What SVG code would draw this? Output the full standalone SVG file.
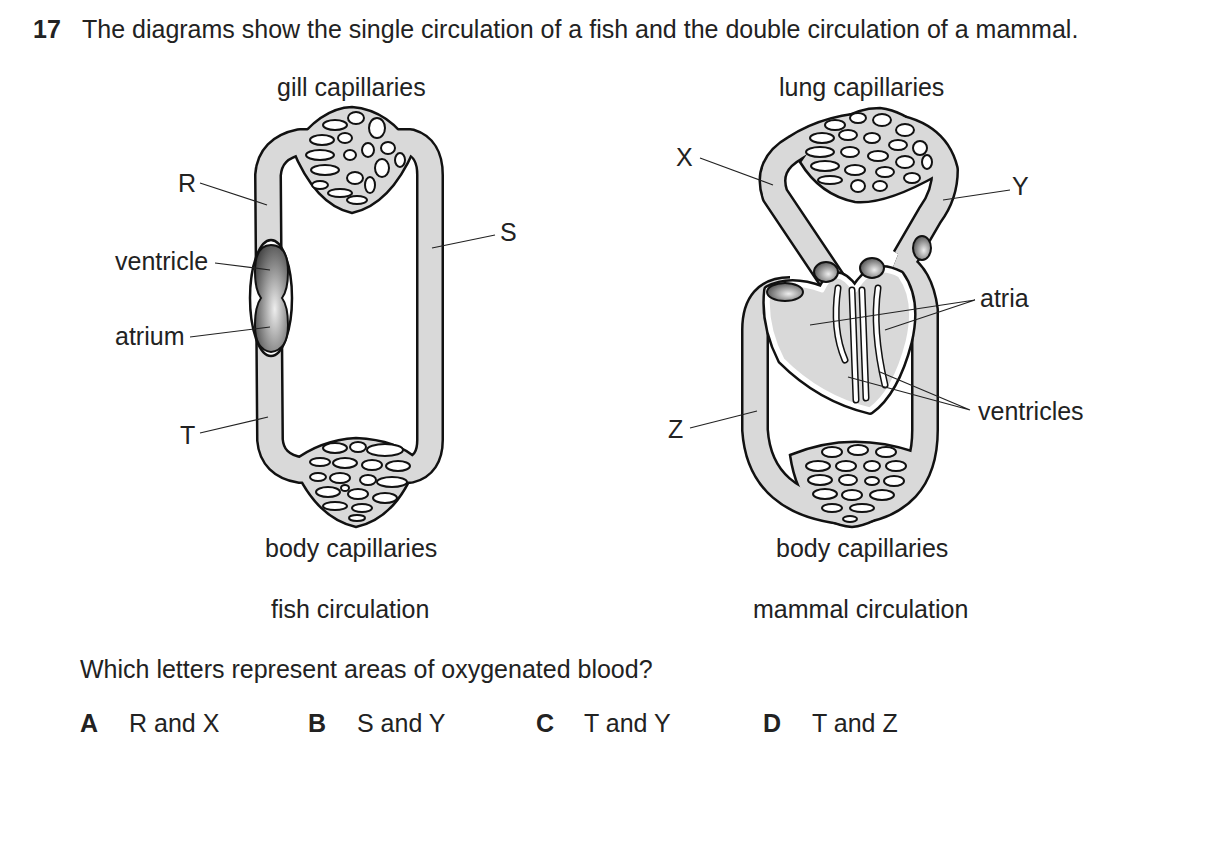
<svg xmlns="http://www.w3.org/2000/svg" width="1209" height="867" viewBox="0 0 1209 867">
<defs>
<radialGradient id="dk" cx="0.6" cy="0.6" r="0.7"><stop offset="0" stop-color="#eee"/><stop offset="1" stop-color="#444"/></radialGradient>
</defs>
<style>
text{font-family:"Liberation Sans",Arial,sans-serif;font-size:25px;fill:#222}
.tb{fill:none;stroke:#111;stroke-width:28;stroke-linejoin:round}
.tg{fill:none;stroke:#d9d9d9;stroke-width:23;stroke-linejoin:round}
.bl{fill:#d9d9d9;stroke:#111;stroke-width:2.5}
.c{fill:#fff;stroke:#111;stroke-width:2}
.ln{stroke:#222;stroke-width:1.2;fill:none}
</style>
<rect width="1209" height="867" fill="#fff"/>
<text x="33" y="38" font-weight="bold">17</text>
<text x="82" y="38">The diagrams show the single circulation of a fish and the double circulation of a mammal.</text>

<g id="fish">
<path class="tb" d="M268,175 Q270,148 300,142 L410,142 Q430,148 430,175 L430,440 Q430,465 410,470 L300,470 Q272,465 270,440 Z"/>
<path class="bl" d="M292,148 Q320,108 352,107 Q390,110 414,150 Q390,205 352,213 Q315,205 292,148 Z"/>
<path class="bl" d="M292,462 Q320,440 356,438 Q398,440 418,460 Q398,518 356,527 Q315,518 292,462 Z"/>
<path class="tg" d="M268,175 Q270,148 300,142 L410,142 Q430,148 430,175 L430,440 Q430,465 410,470 L300,470 Q272,465 270,440 Z"/>
<g class="c">
<ellipse cx="335" cy="125" rx="12" ry="5"/><ellipse cx="356" cy="118" rx="8" ry="6"/><ellipse cx="377" cy="128" rx="8" ry="10"/>
<ellipse cx="322" cy="140" rx="12" ry="5"/><ellipse cx="345" cy="138" rx="7" ry="5"/><ellipse cx="368" cy="150" rx="6" ry="7"/><ellipse cx="388" cy="148" rx="7" ry="6"/>
<ellipse cx="320" cy="155" rx="14" ry="5"/><ellipse cx="350" cy="155" rx="6" ry="5"/><ellipse cx="382" cy="168" rx="7" ry="9"/><ellipse cx="400" cy="160" rx="5" ry="7"/>
<ellipse cx="325" cy="170" rx="14" ry="5"/><ellipse cx="355" cy="178" rx="8" ry="6"/><ellipse cx="370" cy="185" rx="5" ry="8"/>
<ellipse cx="320" cy="185" rx="8" ry="4"/><ellipse cx="340" cy="193" rx="12" ry="4"/><ellipse cx="357" cy="200" rx="10" ry="4"/>
<ellipse cx="335" cy="448" rx="12" ry="5"/><ellipse cx="358" cy="447" rx="8" ry="5"/><ellipse cx="385" cy="450" rx="18" ry="6"/>
<ellipse cx="320" cy="462" rx="10" ry="4"/><ellipse cx="345" cy="463" rx="12" ry="5"/><ellipse cx="372" cy="465" rx="10" ry="5"/><ellipse cx="398" cy="466" rx="12" ry="5"/>
<ellipse cx="318" cy="477" rx="8" ry="4"/><ellipse cx="340" cy="478" rx="10" ry="5"/><ellipse cx="368" cy="480" rx="8" ry="5"/><ellipse cx="392" cy="482" rx="15" ry="5"/>
<ellipse cx="328" cy="492" rx="12" ry="5"/><ellipse cx="345" cy="488" rx="4" ry="3"/><ellipse cx="358" cy="494" rx="10" ry="5"/><ellipse cx="385" cy="498" rx="12" ry="5"/>
<ellipse cx="335" cy="506" rx="12" ry="4"/><ellipse cx="362" cy="508" rx="10" ry="4"/><ellipse cx="357" cy="518" rx="8" ry="3"/>
</g>
<ellipse cx="271" cy="298" rx="21" ry="58" fill="#fff" stroke="#111" stroke-width="2.5"/>
<path d="M271,245 Q288,245 288,272 Q288,290 282,298 Q288,306 288,325 Q288,350 271,352 Q255,350 255,325 Q255,306 261,298 Q255,290 255,272 Q255,245 271,245 Z" fill="url(#dk)" stroke="#111" stroke-width="2"/>
</g>

<g id="mammal">
<path class="tb" d="M840,292 L775,195 Q765,165 795,148 Q830,125 880,125 Q935,130 945,170 Q945,195 930,215 L905,258"/>
<path class="tb" d="M790,290 Q755,290 755,330 L755,430 Q760,505 850,512 Q925,505 925,430 L925,310 Q920,272 895,262"/>
<path class="bl" d="M800,162 Q835,108 880,108 Q930,115 938,175 Q885,205 855,202 Q820,195 800,162 Z"/>
<path class="bl" d="M790,455 Q850,430 915,452 Q900,522 852,527 Q800,522 790,455 Z"/>
<path class="tg" d="M840,292 L775,195 Q765,165 795,148 Q830,125 880,125 Q935,130 945,170 Q945,195 930,215 L905,258"/>
<path class="tg" d="M790,290 Q755,290 755,330 L755,430 Q760,505 850,512 Q925,505 925,430 L925,310 Q920,272 895,262"/>
<g class="c">
<ellipse cx="835" cy="125" rx="10" ry="5"/><ellipse cx="858" cy="118" rx="8" ry="5"/><ellipse cx="882" cy="120" rx="9" ry="6"/><ellipse cx="905" cy="130" rx="9" ry="6"/>
<ellipse cx="822" cy="138" rx="12" ry="5"/><ellipse cx="848" cy="135" rx="9" ry="5"/><ellipse cx="872" cy="138" rx="8" ry="5"/><ellipse cx="898" cy="145" rx="9" ry="5"/><ellipse cx="920" cy="148" rx="7" ry="7"/>
<ellipse cx="820" cy="152" rx="14" ry="5"/><ellipse cx="850" cy="152" rx="9" ry="5"/><ellipse cx="878" cy="156" rx="10" ry="5"/><ellipse cx="905" cy="162" rx="9" ry="6"/><ellipse cx="927" cy="162" rx="5" ry="7"/>
<ellipse cx="825" cy="166" rx="14" ry="5"/><ellipse cx="855" cy="170" rx="10" ry="5"/><ellipse cx="885" cy="172" rx="9" ry="5"/><ellipse cx="912" cy="178" rx="8" ry="5"/>
<ellipse cx="830" cy="180" rx="12" ry="4"/><ellipse cx="858" cy="186" rx="7" ry="6"/><ellipse cx="880" cy="186" rx="7" ry="5"/>
<ellipse cx="832" cy="452" rx="10" ry="5"/><ellipse cx="858" cy="450" rx="10" ry="5"/><ellipse cx="886" cy="452" rx="10" ry="5"/>
<ellipse cx="818" cy="466" rx="12" ry="5"/><ellipse cx="846" cy="466" rx="10" ry="5"/><ellipse cx="872" cy="466" rx="8" ry="5"/><ellipse cx="896" cy="466" rx="10" ry="5"/>
<ellipse cx="820" cy="480" rx="12" ry="5"/><ellipse cx="848" cy="480" rx="9" ry="5"/><ellipse cx="872" cy="481" rx="7" ry="4"/><ellipse cx="894" cy="481" rx="10" ry="5"/>
<ellipse cx="825" cy="494" rx="12" ry="5"/><ellipse cx="852" cy="495" rx="10" ry="5"/><ellipse cx="882" cy="495" rx="12" ry="5"/>
<ellipse cx="832" cy="508" rx="10" ry="4"/><ellipse cx="862" cy="508" rx="12" ry="4"/><ellipse cx="850" cy="519" rx="7" ry="3"/>
</g>
<path d="M768,290 Q790,278 822,290 Q835,262 855,290 Q872,260 900,275 Q918,300 908,342 Q895,392 870,410 Q820,398 782,360 Q764,325 768,290 Z" fill="#d9d9d9" stroke="#111" stroke-width="10" stroke-linejoin="round"/>
<path d="M768,290 Q790,278 822,290 Q835,262 855,290 Q872,260 900,275 Q918,300 908,342 Q895,392 870,410 Q820,398 782,360 Q764,325 768,290 Z" fill="#d9d9d9" stroke="#fff" stroke-width="5" stroke-linejoin="round"/>
<g fill="none" stroke-linecap="round">
<path d="M852,290 L856,400 M862,290 L866,398 M838,288 Q832,330 845,360 M878,288 Q872,330 885,385" stroke="#111" stroke-width="7"/>
<path d="M852,290 L856,400 M862,290 L866,398 M838,288 Q832,330 845,360 M878,288 Q872,330 885,385" stroke="#fff" stroke-width="4"/>
</g>
<ellipse cx="785" cy="292" rx="18" ry="9" fill="url(#dk)" stroke="#111" stroke-width="2"/>
<ellipse cx="826" cy="272" rx="12" ry="10" fill="url(#dk)" stroke="#111" stroke-width="2"/>
<ellipse cx="872" cy="268" rx="12" ry="10" fill="url(#dk)" stroke="#111" stroke-width="2"/>
<ellipse cx="922" cy="248" rx="9" ry="12" fill="url(#dk)" stroke="#111" stroke-width="2"/>
</g>

<g id="connectors" class="ln">
<path d="M200,183 L267,205"/><path d="M215,263 L270,270"/><path d="M190,337 L270,327"/><path d="M200,433 L268,417"/><path d="M432,248 L495,235"/>
<path d="M700,158 L773,185"/><path d="M943,200 L1010,190"/><path d="M975,300 L810,325 M975,300 L885,330"/><path d="M970,410 L848,377 M970,410 L880,372"/><path d="M690,428 L757,411"/>
</g>

<g id="labels">
<text x="277" y="96">gill capillaries</text>
<text x="779" y="96">lung capillaries</text>
<text x="178" y="192">R</text>
<text x="115" y="270">ventricle</text>
<text x="115" y="345">atrium</text>
<text x="180" y="444">T</text>
<text x="500" y="241">S</text>
<text x="676" y="166">X</text>
<text x="1012" y="195">Y</text>
<text x="980" y="307">atria</text>
<text x="978" y="420">ventricles</text>
<text x="668" y="438">Z</text>
<text x="265" y="557">body capillaries</text>
<text x="776" y="557">body capillaries</text>
<text x="271" y="618">fish circulation</text>
<text x="753" y="618">mammal circulation</text>
<text x="80" y="678">Which letters represent areas of oxygenated blood?</text>
<text x="80" y="732" font-weight="bold">A</text><text x="129" y="732">R and X</text>
<text x="308" y="732" font-weight="bold">B</text><text x="357" y="732">S and Y</text>
<text x="536" y="732" font-weight="bold">C</text><text x="584" y="732">T and Y</text>
<text x="763" y="732" font-weight="bold">D</text><text x="812" y="732">T and Z</text>
</g>
</svg>
